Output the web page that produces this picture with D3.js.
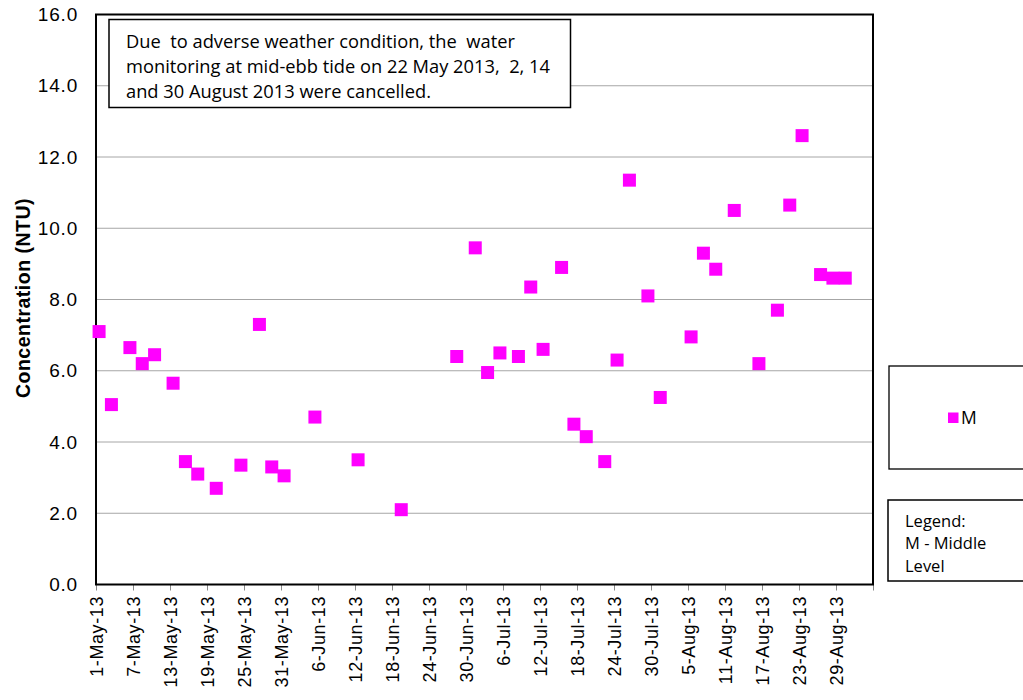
<!DOCTYPE html>
<html>
<head>
<meta charset="utf-8">
<script src="https://cdn.jsdelivr.net/npm/d3@7"></script>
<style>
  html, body { margin: 0; padding: 0; background: #fff; }
  svg { display: block; }
  .arial { font-family: "Liberation Sans", Arial, sans-serif; }
  .cal { font-family: "Open Sans", Lato, sans-serif; }
</style>
</head>
<body>
<svg id="chart" width="1023" height="700"></svg>
<script>
// ---- Data ----
const sampleDates = [
  "2013-05-01","2013-05-03","2013-05-06","2013-05-08","2013-05-10","2013-05-13","2013-05-15","2013-05-17",
  "2013-05-20","2013-05-24","2013-05-27","2013-05-29","2013-05-31","2013-06-05","2013-06-12","2013-06-19",
  "2013-06-28","2013-07-01","2013-07-03","2013-07-05","2013-07-08","2013-07-10","2013-07-12","2013-07-15",
  "2013-07-17","2013-07-19","2013-07-22","2013-07-24","2013-07-26","2013-07-29","2013-07-31","2013-08-05",
  "2013-08-07","2013-08-09","2013-08-12","2013-08-16","2013-08-19","2013-08-21","2013-08-23","2013-08-26",
  "2013-08-28","2013-08-30"
];
const middleLevel = [
  7.1, 5.05, 6.65, 6.2, 6.45, 5.65, 3.45, 3.1,
  2.7, 3.35, 7.3, 3.3, 3.05, 4.7, 3.5, 2.1,
  6.4, 9.45, 5.95, 6.5, 6.4, 8.35, 6.6, 8.9,
  4.5, 4.15, 3.45, 6.3, 11.35, 8.1, 5.25, 6.95,
  9.3, 8.85, 10.5, 6.2, 7.7, 10.65, 12.6, 8.7,
  8.6, 8.6
];
const xTickDates = [
  "2013-05-01","2013-05-07","2013-05-13","2013-05-19","2013-05-25","2013-05-31","2013-06-06","2013-06-12",
  "2013-06-18","2013-06-24","2013-06-30","2013-07-06","2013-07-12","2013-07-18","2013-07-24","2013-07-30",
  "2013-08-05","2013-08-11","2013-08-17","2013-08-23","2013-08-29","2013-09-04"
];
const yTicks = [0, 2, 4, 6, 8, 10, 12, 14, 16];
const xDomain = ["2013-05-01", "2013-09-04"];
const yDomain = [0, 16];
const seriesName = "M";
const noteLines = [
  "Due  to adverse weather condition, the  water",
  "monitoring at mid-ebb tide on 22 May 2013,  2, 14",
  "and 30 August 2013 were cancelled."
];
const legendNoteLines = ["Legend:", "M - Middle", "Level"];

// ---- Layout ----
const svg = d3.select("#chart");
const plot = { left: 96, right: 873, top: 14.5, bottom: 584.5 };
const parse = d3.utcParse("%Y-%m-%d");
const fmt = d3.utcFormat("%-d-%b-%y");
const magenta = "#FF00FF";

const x = d3.scaleUtc().domain(xDomain.map(parse)).range([plot.left, plot.right]);
const y = d3.scaleLinear().domain(yDomain).range([plot.bottom, plot.top]);
const halfDay = (x(parse("2013-05-02")) - x(parse("2013-05-01"))) / 2;

// gridlines
svg.append("g")
  .selectAll("line")
  .data(yTicks.filter(t => t > 0 && t < 16))
  .join("line")
  .attr("x1", plot.left).attr("x2", plot.right)
  .attr("y1", d => y(d)).attr("y2", d => y(d))
  .attr("stroke", "#a6a6a6").attr("stroke-width", 1);

// y axis
const yAxis = svg.append("g")
  .attr("transform", `translate(${plot.left},0)`)
  .call(d3.axisLeft(y).tickValues(yTicks).tickFormat(d3.format(".1f")).tickSize(0).tickPadding(18));
yAxis.attr("font-family", null).attr("font-size", null);
yAxis.select(".domain").remove();
yAxis.selectAll("text")
  .attr("class", "arial")
  .style("font-size", "19px").style("letter-spacing", "0.8px").attr("fill", "#000");

// x axis
const xAxis = svg.append("g")
  .attr("transform", `translate(0,${plot.bottom})`)
  .call(d3.axisBottom(x).tickValues(xTickDates.map(parse))
    .tickFormat((d, i) => i < xTickDates.length - 1 ? fmt(d) : "")
    .tickSize(6).tickSizeOuter(0));
xAxis.attr("font-family", null).attr("font-size", null);
xAxis.select(".domain").remove();
xAxis.selectAll(".tick line").attr("stroke", "#888").attr("stroke-width", 1);
xAxis.selectAll("text")
  .attr("class", "arial")
  .style("font-size", "18px").style("letter-spacing", "0.6px").attr("fill", "#000")
  .attr("transform", "rotate(-90)")
  .attr("text-anchor", "end")
  .attr("x", -11.5).attr("y", 0).attr("dy", "0.36em");

// plot border
svg.append("rect")
  .attr("x", plot.left).attr("y", plot.top)
  .attr("width", plot.right - plot.left).attr("height", plot.bottom - plot.top)
  .attr("fill", "none").attr("stroke", "#000").attr("stroke-width", 2);

// y title
svg.append("text")
  .attr("class", "arial")
  .attr("transform", "translate(29.5,298) rotate(-90)")
  .attr("text-anchor", "middle")
  .style("font-weight", "bold").style("font-size", "19.5px").style("letter-spacing", "0.5px")
  .text("Concentration (NTU)");

// note box
svg.append("rect")
  .attr("x", 109).attr("y", 19.5).attr("width", 461.5).attr("height", 88)
  .attr("fill", "#fff").attr("stroke", "#000").attr("stroke-width", 1.5);
svg.append("g").selectAll("text").data(noteLines).join("text")
  .attr("class", "cal")
  .attr("x", 126).attr("y", (d, i) => 48 + i * 25)
  .style("font-size", "18.3px").attr("fill", "#000")
  .style("white-space", "pre")
  .text(d => d);

// points
const sq = 13;
svg.append("g").selectAll("rect")
  .data(sampleDates.map((d, i) => ({ date: parse(d), v: middleLevel[i] })))
  .join("rect")
  .attr("x", d => x(d.date) + halfDay - sq / 2)
  .attr("y", d => y(d.v) - sq / 2)
  .attr("width", sq).attr("height", sq)
  .attr("fill", magenta);

// legend box
svg.append("rect")
  .attr("x", 889).attr("y", 366).attr("width", 140).attr("height", 103)
  .attr("fill", "#fff").attr("stroke", "#000").attr("stroke-width", 1.3);
svg.append("rect")
  .attr("x", 948).attr("y", 412.5).attr("width", 10.5).attr("height", 10.5)
  .attr("fill", magenta);
svg.append("text")
  .attr("class", "cal")
  .attr("x", 961).attr("y", 424)
  .style("font-size", "17.5px").text(seriesName);

// legend note box
svg.append("rect")
  .attr("x", 888).attr("y", 500).attr("width", 140).attr("height", 81)
  .attr("fill", "#fff").attr("stroke", "#000").attr("stroke-width", 1.5);
svg.append("g").selectAll("text").data(legendNoteLines).join("text")
  .attr("class", "cal")
  .attr("x", 905).attr("y", (d, i) => 526.5 + i * 22.6)
  .style("font-size", "16.5px").text(d => d);
</script>
</body>
</html>
